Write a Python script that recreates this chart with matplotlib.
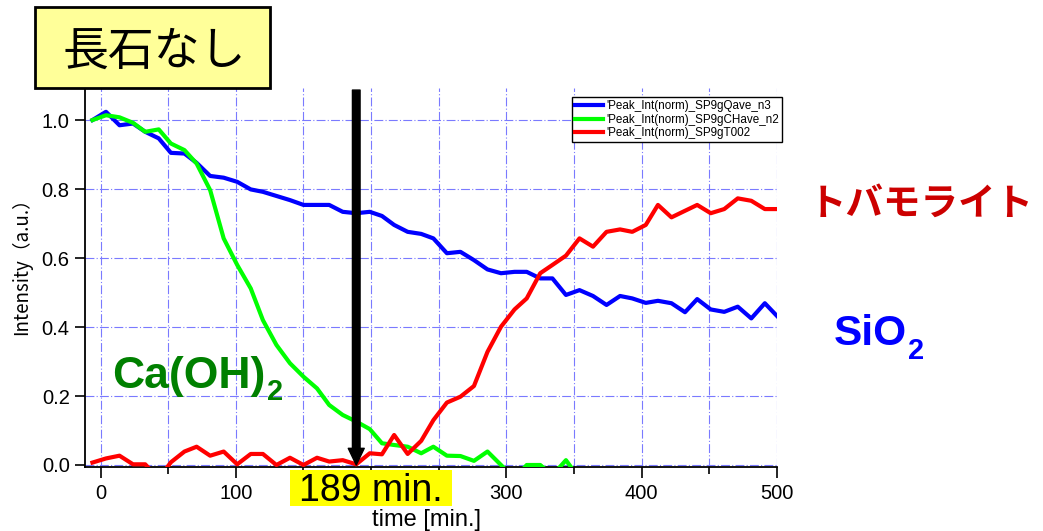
import matplotlib
matplotlib.use("Agg")
import matplotlib.pyplot as plt
from matplotlib.patches import Rectangle

# =========================
# DATA
# =========================
time_min = [-6, 4, 14, 24, 33, 43, 52, 62, 71, 81, 91, 101, 111, 120, 130,
            140, 150, 160, 169, 179, 189, 199, 208, 217, 227, 237, 246, 256,
            266, 276, 286, 296, 306, 315, 325, 334, 344, 354, 364, 374, 384,
            393, 403, 412, 422, 432, 441, 451, 461, 471, 481, 491, 500]

# SiO2 (quartz)
sio2 = [1.00, 1.024, 0.985, 0.990, 0.966, 0.947, 0.905, 0.903, 0.876, 0.838,
        0.833, 0.821, 0.799, 0.792, 0.780, 0.768, 0.754, 0.754, 0.754, 0.734,
        0.730, 0.734, 0.722, 0.696, 0.676, 0.670, 0.657, 0.614, 0.618, 0.594,
        0.567, 0.556, 0.560, 0.560, 0.541, 0.541, 0.493, 0.507, 0.490, 0.464,
        0.490, 0.483, 0.470, 0.476, 0.469, 0.443, 0.481, 0.451, 0.444, 0.459,
        0.425, 0.469, 0.432]

# Ca(OH)2 (goes below zero after ~300 min, clipped by the axis)
caoh2 = [1.00, 1.014, 1.008, 0.992, 0.966, 0.973, 0.932, 0.913, 0.874, 0.797,
         0.657, 0.580, 0.512, 0.420, 0.348, 0.295, 0.256, 0.222, 0.174, 0.145,
         0.126, 0.104, 0.063, 0.058, 0.053, 0.034, 0.053, 0.027, 0.026, 0.012,
         0.039, 0.000, -0.040, 0.000, 0.000, -0.030, 0.014, -0.040]

# tobermorite
tobermorite = [0.007, 0.019, 0.027, 0.002, 0.002, -0.040, 0.008, 0.039, 0.053,
               0.027, 0.039, 0.002, 0.032, 0.032, 0.000, 0.021, 0.000, 0.021,
               0.010, 0.014, 0.002, 0.034, 0.031, 0.087, 0.032, 0.070, 0.130,
               0.181, 0.198, 0.229, 0.328, 0.401, 0.451, 0.483, 0.556, 0.580,
               0.607, 0.657, 0.633, 0.676, 0.683, 0.676, 0.696, 0.754, 0.718,
               0.737, 0.754, 0.730, 0.742, 0.773, 0.766, 0.742, 0.742]

labels = ["'Peak_Int(norm)_SP9gQave_n3",
          "'Peak_Int(norm)_SP9gCHave_n2",
          "'Peak_Int(norm)_SP9gT002"]

x_major = [0, 100, 200, 300, 400, 500]
x_minor = [50, 150, 250, 350, 450]
y_ticks = [0.0, 0.2, 0.4, 0.6, 0.8, 1.0]

EVENT_T = 189

# =========================
# FIGURE
# =========================
plt.rcParams['font.family'] = ['Liberation Sans', 'Noto Sans CJK JP', 'DejaVu Sans']

W, H = 1043, 531
fig = plt.figure(figsize=(W / 100, H / 100), dpi=100)


def fx(px):
    return px / W


def fy(py):
    return 1 - py / H


ax = fig.add_axes([fx(85), fy(467), (777 - 85) / W, (467 - 88) / H])

ax.plot(time_min, sio2, color='#0000ff', lw=3, label=labels[0], zorder=3)
ax.plot(time_min[:len(caoh2)], caoh2, color='#00ff00', lw=3, label=labels[1], zorder=3)
ax.plot(time_min, tobermorite, color='#ff0000', lw=3, label=labels[2], zorder=3)

ax.set_xlim(-11.5, 500)
ax.set_ylim(-0.0058, 1.093)

ax.set_xticks(x_major)
# the "200" label sits under the yellow "189 min." box in the reference
ax.set_xticklabels(["" if t == 200 else str(t) for t in x_major])
ax.set_xticks(x_minor, minor=True)
ax.set_yticks(y_ticks)
ax.set_yticklabels([f"{v:.1f}" for v in y_ticks])

grid_kw = dict(color='#7a7aff', lw=0.8, linestyle=(0, (8, 2, 1, 2)))
ax.grid(True, which='major', **grid_kw)
ax.grid(True, which='minor', axis='x', **grid_kw)
ax.set_axisbelow(True)

for side in ['top', 'right']:
    ax.spines[side].set_visible(False)
for side in ['left', 'bottom']:
    ax.spines[side].set_linewidth(1.3)

ax.tick_params(axis='both', which='major', direction='out', length=7,
               width=1.2, labelsize=14.5, pad=4)
ax.tick_params(axis='x', which='major', length=8)
ax.tick_params(axis='x', which='minor', direction='out', length=5, width=1.2)

# arrow at 189 min
ax.annotate('', xy=(EVENT_T, 0.0), xytext=(EVENT_T, 1.087),
            arrowprops=dict(facecolor='black', edgecolor='black', width=5.5,
                            headwidth=11.5, headlength=12, shrink=0),
            zorder=5)

leg = ax.legend(loc='upper left', bbox_to_anchor=(fx(572), fy(97)),
                bbox_transform=fig.transFigure,
                prop={'family': 'Liberation Sans', 'size': 8.4},
                handlelength=2.4, handletextpad=0.3, labelspacing=0.15,
                borderpad=0.25, borderaxespad=0, fancybox=False,
                framealpha=1, edgecolor='black')
leg.get_frame().set_linewidth(1.0)

# axis labels
fig.text(fx(426), fy(520), "time [min.]", ha='center', va='center', fontsize=17)
fig.text(fx(22), fy(262), "Intensity（a.u.）", ha='center', va='center',
         rotation=90, fontsize=13.5, family=['Noto Sans CJK JP'])

# title box
fig.patches.append(Rectangle((fx(35), fy(88)), 235 / W, 81 / H,
                             transform=fig.transFigure, facecolor='#ffff99',
                             edgecolor='black', lw=2))
fig.text(fx(154), fy(52), "長石なし", ha='center', va='center', fontsize=33,
         family=['Noto Sans CJK JP'])

# "189 min." label
fig.patches.append(Rectangle((fx(290), fy(506)), 162 / W, 36 / H,
                             transform=fig.transFigure, facecolor='#ffff00',
                             edgecolor='none', zorder=10))
fig.text(fx(371), fy(501), f"{EVENT_T} min.", ha='center', va='baseline',
         fontsize=27, zorder=11)

# phase labels
fig.text(fx(112), fy(388), "Ca(OH)", ha='left', va='baseline', fontsize=32,
         fontweight='bold', color='#008000')
fig.text(fx(267), fy(400), "2", ha='left', va='baseline', fontsize=21,
         fontweight='bold', color='#008000')

fig.text(fx(834), fy(345), "SiO", ha='left', va='baseline', fontsize=30.5,
         fontweight='bold', color='#0000ff')
fig.text(fx(908), fy(359), "2", ha='left', va='baseline', fontsize=21,
         fontweight='bold', color='#0000ff')

fig.text(fx(921), fy(203), "トバモライト", ha='center', va='center', fontsize=27,
         fontweight='bold', color='#cc0000', family=['Noto Sans CJK JP'])

fig.savefig("out.png", dpi=100)
